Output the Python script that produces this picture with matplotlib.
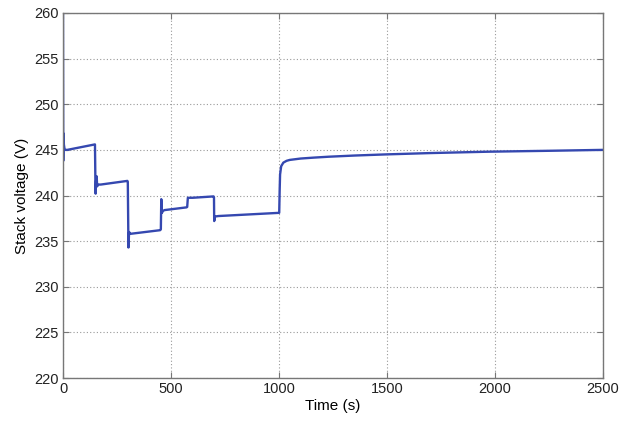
import matplotlib
matplotlib.use("Agg")
import matplotlib.pyplot as plt

# Stack voltage trace during the load-step test
time_s = [0, 1.2, 2.5, 4, 7, 12, 20,
          148, 150, 151, 153, 156, 158, 162, 175,
          298, 300, 303, 306, 312,
          450, 453, 455, 458, 462, 470,
          572, 575, 578, 600,
          697, 699, 700, 704, 720,
          1001, 1003, 1005, 1010, 1020, 1035, 1050, 1100, 1160, 1230,
          1350, 1490, 1700, 1970, 2250, 2500]
voltage_v = [260.0, 243.8, 246.8, 245.6, 245.1, 245.0, 245.0,
             245.6, 241.5, 240.2, 241.6, 242.1, 241.0, 241.2, 241.2,
             241.6, 241.5, 234.3, 236.0, 235.8,
             236.2, 236.3, 239.6, 238.1, 238.3, 238.4,
             238.7, 238.75, 239.75, 239.75,
             239.9, 239.8, 237.2, 237.7, 237.75,
             238.1, 240.5, 242.3, 243.2, 243.6, 243.8, 243.9, 244.05, 244.15, 244.25,
             244.38, 244.5, 244.65, 244.8, 244.9, 245.0]

x_ticks = [0, 500, 1000, 1500, 2000, 2500]
y_ticks = [220, 225, 230, 235, 240, 245, 250, 255, 260]

plt.rcParams['font.family'] = ['Liberation Sans', 'DejaVu Sans']

fig = plt.figure(figsize=(6.21, 4.21), dpi=100)
ax = fig.add_axes([63 / 621, 1 - 378 / 421, 540 / 621, 365 / 421])

ax.plot(time_s, voltage_v, color='#3548b0', linewidth=1.7)

ax.set_xlim(0, 2500)
ax.set_ylim(220, 260)
ax.set_xticks(x_ticks)
ax.set_yticks(y_ticks)
ax.tick_params(direction='in', top=True, right=True, length=4, pad=3,
               labelsize=10.5, colors='#222222', color='#777777')
ax.grid(True, linestyle=(0, (1, 2)), color='#999999', linewidth=0.8)
for side in ax.spines.values():
    side.set_color('#777777')
    side.set_linewidth(1.0)

ax.set_xlabel('Time (s)', fontsize=11, labelpad=2)
ax.set_ylabel('Stack voltage (V)', fontsize=11, labelpad=4)

fig.savefig('out.png', dpi=100)
